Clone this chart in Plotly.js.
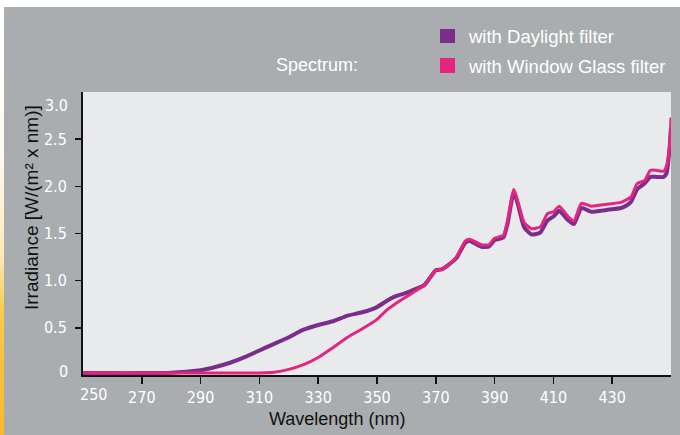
<!DOCTYPE html>
<html>
<head>
<meta charset="utf-8">
<script src="https://cdn.plot.ly/plotly-3.0.1.min.js"></script>
<style>
  html, body { margin: 0; padding: 0; background: #ffffff; }
  #wrap { position: relative; width: 680px; height: 435px; background: #ffffff; overflow: hidden; }
  #strip { position: absolute; left: 0; top: 7px; width: 4px; height: 428px;
    background: linear-gradient(to bottom, #ffffff 0%, #fffaf0 35%, #fde9b8 58%, #fbc945 72%, #f8b92a 100%); }
  #chart { position: absolute; left: 4px; top: 7px; width: 676px; height: 428px; }
</style>
</head>
<body>
<div id="wrap"><div id="strip"></div><div id="chart"></div></div>
<script>
// ---- data ----
const wavelength = [250,260,270,280,285,290,295,300,305,310,315,320,325,330,335,340,345,350,353,356,360,363,366,368,370,372,374,377,380,381.5,383,385.5,388,390,393,394.5,396.5,398,400,402.5,405.5,408,410,412,415,417,419.5,423,428,433,435,436.5,438.5,441,443,445,447.5,448.5,449.5,450];
const daylight = [0.02,0.02,0.02,0.025,0.035,0.05,0.085,0.13,0.19,0.26,0.33,0.40,0.48,0.53,0.57,0.63,0.665,0.72,0.78,0.83,0.87,0.91,0.95,1.03,1.11,1.12,1.16,1.24,1.40,1.42,1.40,1.36,1.36,1.43,1.46,1.62,1.94,1.80,1.57,1.49,1.51,1.64,1.68,1.74,1.64,1.60,1.77,1.73,1.75,1.77,1.80,1.84,1.97,2.03,2.10,2.10,2.10,2.14,2.40,2.62];
const windowGlass = [0.02,0.02,0.02,0.02,0.02,0.02,0.02,0.02,0.02,0.022,0.03,0.06,0.11,0.185,0.29,0.40,0.49,0.59,0.68,0.75,0.83,0.89,0.95,1.03,1.11,1.12,1.16,1.25,1.42,1.44,1.42,1.38,1.38,1.45,1.48,1.65,1.97,1.83,1.62,1.55,1.57,1.71,1.73,1.79,1.68,1.63,1.82,1.79,1.81,1.83,1.86,1.89,2.03,2.06,2.17,2.17,2.16,2.22,2.42,2.73];
const seriesNames = ["with Daylight filter", "with Window Glass filter"];
const xTickVals = [270,290,310,330,350,370,390,410,430];
const yTickVals = [0.5,1.0,1.5,2.0,2.5];
const yTickText = ["0.5","1.0","1.5","2.0","2.5"];

// ---- styling ----
const PURPLE = "#7b2d8b";
const PINK = "#e5247f";
const FONT = "Liberation Sans, Arial, sans-serif";
const NARROW = "Liberation Sans Narrow, DejaVu Sans Condensed, Arial Narrow, sans-serif";

// plot area in page pixels: left 83, right 671, top 92, bottom 375
const L = 83, R = 671, T = 92, B = 375;
const px = v => (v - L) / (R - L);
const py = v => (B - v) / (B - T);

const traces = [
  { x: wavelength, y: daylight, name: seriesNames[0], mode: "lines",
    line: { color: PURPLE, width: 4, shape: "spline", smoothing: 0.5 }, showlegend: false },
  { x: wavelength, y: windowGlass, name: seriesNames[1], mode: "lines",
    line: { color: PINK, width: 3, shape: "spline", smoothing: 0.5 }, showlegend: false }
];

const tickFont = { family: NARROW, size: 16, color: "#ffffff" };
const ann = (text, x, y, xa, size, color, fam, extra) => Object.assign({
  text: text, xref: "paper", yref: "paper", x: px(x), y: py(y),
  xanchor: xa, yanchor: "middle", showarrow: false,
  font: { family: fam, size: size, color: color }
}, extra || {});

const layout = {
  width: 676, height: 428,
  margin: { l: 79, r: 9, t: 85, b: 60, pad: 0 },
  paper_bgcolor: "#a9adaf",
  plot_bgcolor: "#e9eaec",
  showlegend: false,
  xaxis: {
    range: [250, 450], tickvals: xTickVals, ticks: "outside", ticklen: 7, tickwidth: 1.5,
    tickcolor: "#111", showline: true, linecolor: "#111", linewidth: 2,
    showgrid: false, zeroline: false, tickfont: tickFont, ticklabelstandoff: 0, fixedrange: true
  },
  yaxis: {
    range: [0, 3.0], tickvals: yTickVals, ticktext: yTickText, ticks: "outside", ticklen: 6, tickwidth: 1.5,
    tickcolor: "#111", showline: true, linecolor: "#111", linewidth: 2,
    showgrid: false, zeroline: false, tickfont: tickFont, ticklabelstandoff: 5, fixedrange: true
  },
  shapes: [
    { type: "rect", xref: "paper", yref: "paper", x0: px(440), x1: px(455), y0: py(29), y1: py(43),
      fillcolor: PURPLE, line: { width: 0 } },
    { type: "rect", xref: "paper", yref: "paper", x0: px(440), x1: px(455), y0: py(58), y1: py(73),
      fillcolor: PINK, line: { width: 0 } }
  ],
  annotations: [
    ann("Spectrum:", 274, 65, "left", 18, "#ffffff", FONT),
    ann(seriesNames[0], 466, 37, "left", 18.5, "#ffffff", FONT),
    ann(seriesNames[1], 466, 66, "left", 18.5, "#ffffff", FONT),
    ann("3.0", 70, 105, "right", 16, "#ffffff", NARROW),
    ann("0", 70, 371.5, "right", 16, "#ffffff", NARROW),
    ann("250", 93, 394.5, "center", 16, "#ffffff", NARROW),
    ann("Wavelength (nm)", 337, 419, "center", 18, "#111111", FONT),
    ann("Irradiance [W/(m² x nm)]", 31, 208, "center", 19, "#111111", FONT, { textangle: -90 })
  ]
};

Plotly.newPlot("chart", traces, layout, { displayModeBar: false, staticPlot: true });
</script>
</body>
</html>
